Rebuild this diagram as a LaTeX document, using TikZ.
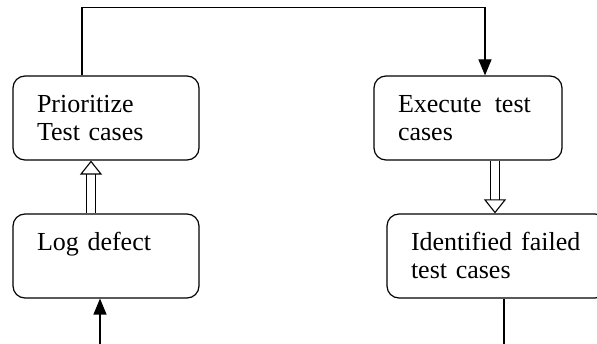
\documentclass[tikz,border=0pt]{standalone}
\usepackage{fontspec}
\setmainfont{Liberation Serif}
\usetikzlibrary{arrows.meta}

\begin{document}
\begin{tikzpicture}[x=1pt,y=-1pt,
    box/.style={draw,line width=1.2pt,rounded corners=12pt,minimum width=186pt,minimum height=84pt,
        inner sep=0pt,text width=138pt,align=left,font=\fontsize{26}{28}\selectfont,
        execute at begin node=\rule{0pt}{24.6pt},execute at end node=\rule[-8.4pt]{0pt}{8.4pt}},
    link/.style={line width=1.2pt,-{Triangle[length=16pt,width=13pt]}},
    hollow/.style={double,line width=1.1pt,double distance=8pt,-{Triangle[open,length=14pt,width=22pt]}}]

        \useasboundingbox (0,0) rectangle (597,344);
        \clip (0,0) rectangle (597,344);

        \begin{scope}
            \node[box] (prio) at (106,118) {Prioritize\\Test cases};
            \node[box] (log) at (106,256) {Log defect\\};
            \node[box,minimum width=188pt,text width=140pt] (exec) at (468,118) {Execute\hspace{0.5em}test\\cases};
            \node[box,minimum width=220pt,text width=172pt] (ident) at (497,256) {Identified\hspace{0.35em}failed\\test cases};
            \coordinate (logfeed) at (100,344);
            \coordinate (failend) at (504,344);
        \end{scope}

        \begin{scope}
            \draw[link] ([xshift=-24pt]prio.north) -- ++(0,-68) -| ([xshift=17pt]exec.north);
            \draw[hollow] ([xshift=-15pt]log.north) -- ([xshift=-15pt]prio.south);
            \draw[hollow] ([xshift=27pt]exec.south) -- ([xshift=27pt]exec.south |- ident.north);
            \draw[line width=1.2pt] ([xshift=7pt]ident.south) -- (failend);
            \draw[link] (logfeed) -- ([xshift=-6pt]log.south);
        \end{scope}

\end{tikzpicture}
\end{document}
